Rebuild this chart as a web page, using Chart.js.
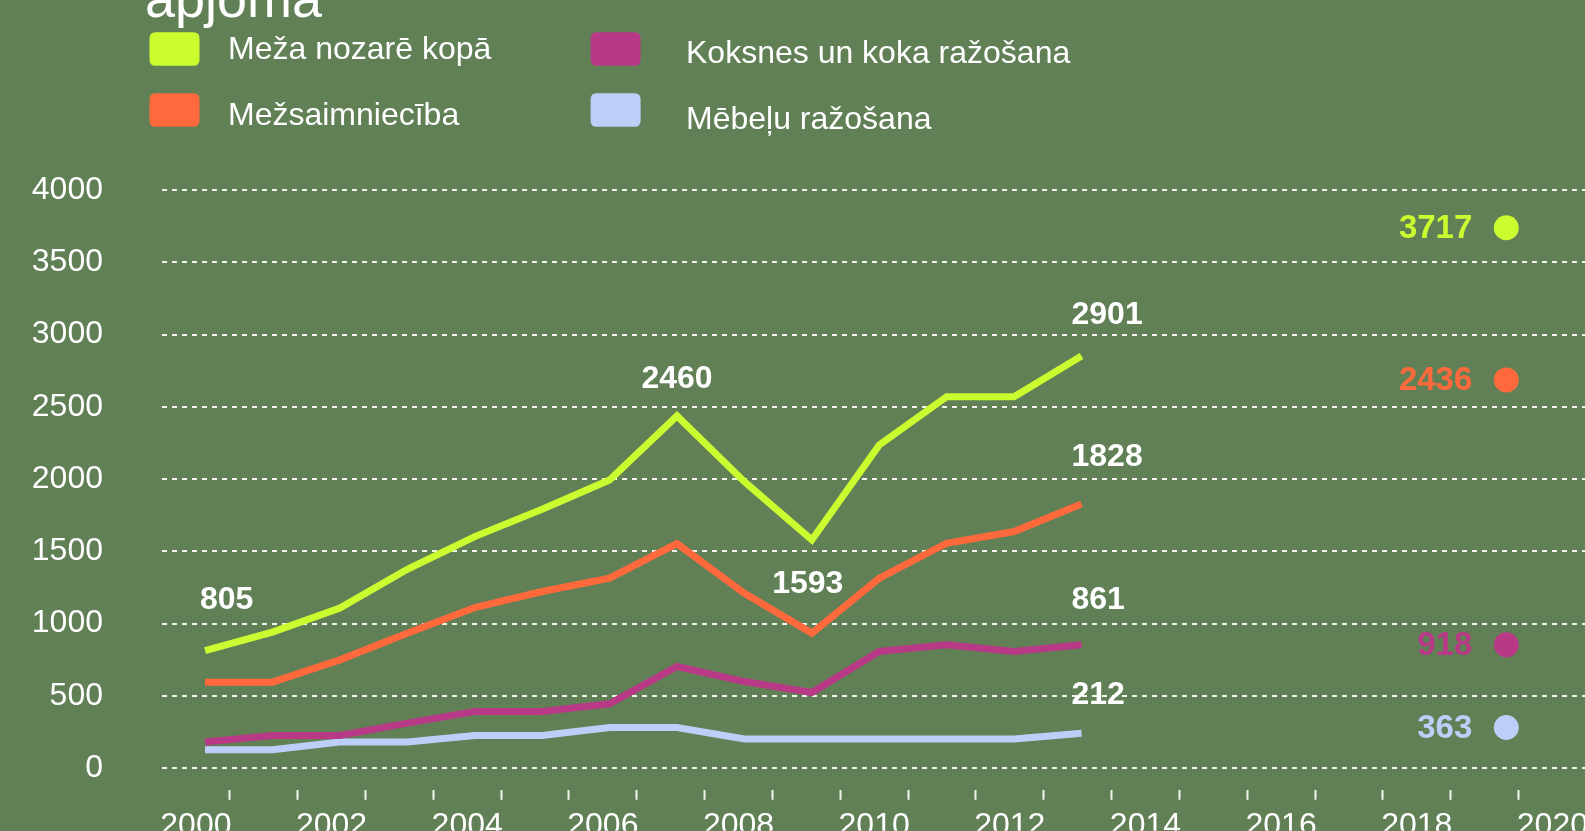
<!DOCTYPE html>
<html><head><meta charset="utf-8">
<script src="https://cdn.jsdelivr.net/npm/chart.js@4.4.1/dist/chart.umd.min.js"></script>
<style>
html,body{margin:0;padding:0;background:#618056;overflow:hidden;width:1585px;height:831px}
#c{display:block}
</style>
</head><body><canvas id="c" width="1595" height="868" style="width:1595px;height:868px"></canvas>
<script>
// ---- data ----
const titleText = 'apjoma';
const years = [2000,2001,2002,2003,2004,2005,2006,2007,2008,2009,2010,2011,2012,2013];
const axisYears = ['2000','2001','2002','2003','2004','2005','2006','2007','2008','2009','2010','2011','2012','2013','2014','2015','2016','2017','2018','2019','2020'];
const seriesNames = ['Meža nozarē kopā','Mežsaimniecība','Koksnes un koka ražošana','Mēbeļu ražošana'];
const mezaNozareKopa = [813,941,1107,1376,1602,1791,1994,2437,1982,1579,2236,2570,2570,2852];
const mezsaimnieciba = [595,595,749,934,1111,1222,1314,1553,1210,934,1314,1556,1637,1828];
const koksnesRazosana = [180,226,226,311,392,392,445,703,599,523,807,853,807,853];
const mebeluRazosana = [127,127,180,180,226,226,281,281,201,201,201,201,201,242];
const targetYear = 2019.3;
const targetValues = [3739,2686,853,281];
const targetLabels = ['3717','2436','918','363'];
const yTicks = [0,500,1000,1500,2000,2500,3000,3500,4000];
const pointLabelSeries = [0,0,0,0,1,2,3];
const pointLabelYears = [2000,2007,2009,2013,2013,2013,2013];
const pointLabelTexts = ['805','2460','1593','2901','1828','861','212'];

// ---- styles / layout ----
const BG = '#618056';
const COLORS = ['#cbfc30','#ff693c','#b83a86','#bccff8'];
const FONT = '"Liberation Sans", Arial, sans-serif';
const pointLabelPlacement = [
  {align:'left', dx:-5, dy:-42},
  {align:'center', dx:0, dy:-28},
  {align:'center', dx:-4, dy:53},
  {align:'left', dx:-10, dy:-32},
  {align:'left', dx:-10, dy:-38},
  {align:'left', dx:-10, dy:-36},
  {align:'left', dx:-10, dy:-29}
];
const legendPlacement = [
  {bx:149.5, by:32.3, tx:228, ty:59.3},
  {bx:149.5, by:93.3, tx:228, ty:125},
  {bx:590.6, by:32.3, tx:686, ty:63.3},
  {bx:590.6, by:93.3, tx:686, ty:129.3}
];

const allSeries = [mezaNozareKopa, mezsaimnieciba, koksnesRazosana, mebeluRazosana];
const lineDatasets = allSeries.map((vals, i) => ({
  type: 'line', label: seriesNames[i],
  data: years.map((yr, k) => ({x: yr, y: vals[k]})),
  xAxisID: 'xd', borderColor: COLORS[i], backgroundColor: COLORS[i],
  borderWidth: 7, borderCapStyle: 'butt', borderJoinStyle: 'miter',
  pointRadius: 0, tension: 0, fill: false
}));
const targetDataset = {
  type: 'scatter', label: 'target',
  data: targetValues.map(v => ({x: targetYear, y: v})),
  xAxisID: 'xd', backgroundColor: COLORS, borderWidth: 0,
  pointRadius: 12.5, pointHoverRadius: 12.5, showLine: false
};

function roundRect(ctx, x, y, w, h, r) {
  ctx.beginPath();
  ctx.moveTo(x + r, y);
  ctx.lineTo(x + w - r, y); ctx.quadraticCurveTo(x + w, y, x + w, y + r);
  ctx.lineTo(x + w, y + h - r); ctx.quadraticCurveTo(x + w, y + h, x + w - r, y + h);
  ctx.lineTo(x + r, y + h); ctx.quadraticCurveTo(x, y + h, x, y + h - r);
  ctx.lineTo(x, y + r); ctx.quadraticCurveTo(x, y, x + r, y);
  ctx.closePath();
}

const decorPlugin = {
  id: 'decor',
  beforeDraw(chart) {
    const c = chart.ctx;
    c.save(); c.fillStyle = BG; c.fillRect(0, 0, chart.width, chart.height); c.restore();
  },
  afterDraw(chart) {
    const c = chart.ctx;
    const xs = chart.scales.xd, ys = chart.scales.y;
    c.save();
    c.fillStyle = '#ffffff';
    c.font = '54px ' + FONT;
    c.textAlign = 'left'; c.textBaseline = 'alphabetic';
    c.fillText(titleText, 145, 17);
    c.font = '32px ' + FONT;
    chart.data.datasets.slice(0, 4).forEach((ds, i) => {
      const p = legendPlacement[i];
      c.fillStyle = ds.borderColor;
      roundRect(c, p.bx, p.by, 50, 33.5, 6); c.fill();
      c.fillStyle = '#ffffff';
      c.fillText(ds.label, p.tx, p.ty);
    });
    c.font = 'bold 32px ' + FONT;
    c.fillStyle = '#ffffff';
    pointLabelTexts.forEach((t, i) => {
      const s = pointLabelSeries[i];
      const k = years.indexOf(pointLabelYears[i]);
      const px = xs.getPixelForValue(pointLabelYears[i]);
      const py = ys.getPixelForValue(allSeries[s][k]);
      const pl = pointLabelPlacement[i];
      c.textAlign = pl.align;
      c.textBaseline = 'alphabetic';
      c.fillText(t, px + pl.dx, py + pl.dy);
    });
    c.font = 'bold 33px ' + FONT;
    c.textAlign = 'right'; c.textBaseline = 'middle';
    targetValues.forEach((v, i) => {
      c.fillStyle = COLORS[i];
      c.fillText(targetLabels[i], xs.getPixelForValue(targetYear) - 34, ys.getPixelForValue(v) + 1);
    });
    c.restore();
  }
};

new Chart(document.getElementById('c'), {
  data: { labels: axisYears, datasets: [...lineDatasets, targetDataset] },
  options: {
    responsive: false, maintainAspectRatio: false, devicePixelRatio: 1,
    animation: false, events: [],
    layout: { autoPadding: false, padding: { top: 190, left: 0, right: 0, bottom: 0 } },
    plugins: { legend: { display: false }, tooltip: { enabled: false }, title: { display: false } },
    scales: {
      x: {
        type: 'category', position: 'bottom', offset: true,
        afterFit(scale) { scale.height = 41; },
        grid: {
          offset: true, drawOnChartArea: false, drawTicks: true,
          tickLength: 10, tickWidth: 2,
          tickColor: (ctx) => ctx.index === 0 ? 'rgba(0,0,0,0)' : '#f4f4ee'
        },
        border: { display: false },
        ticks: {
          autoSkip: false, maxRotation: 0, minRotation: 0, padding: 7,
          color: '#ffffff', font: { family: FONT, size: 32 },
          callback(val) { const l = this.getLabelForValue(val); return (+l % 2 === 0) ? l : ''; }
        }
      },
      xd: { type: 'linear', display: false, position: 'bottom', min: 1999.362, max: 2020.487 },
      y: {
        type: 'linear', position: 'left', min: -150, max: 4000,
        afterFit(scale) { scale.width = 162; },
        afterBuildTicks(scale) { scale.ticks = yTicks.map(v => ({value: v})); },
        grid: { color: '#f4f4ee', lineWidth: 2, drawTicks: false },
        border: { display: false, dash: [5, 5] },
        ticks: { padding: 59, color: '#ffffff', font: { family: FONT, size: 32 }, callback(val) { return String(val); } }
      }
    }
  },
  plugins: [decorPlugin]
});
</script>
</body></html>
